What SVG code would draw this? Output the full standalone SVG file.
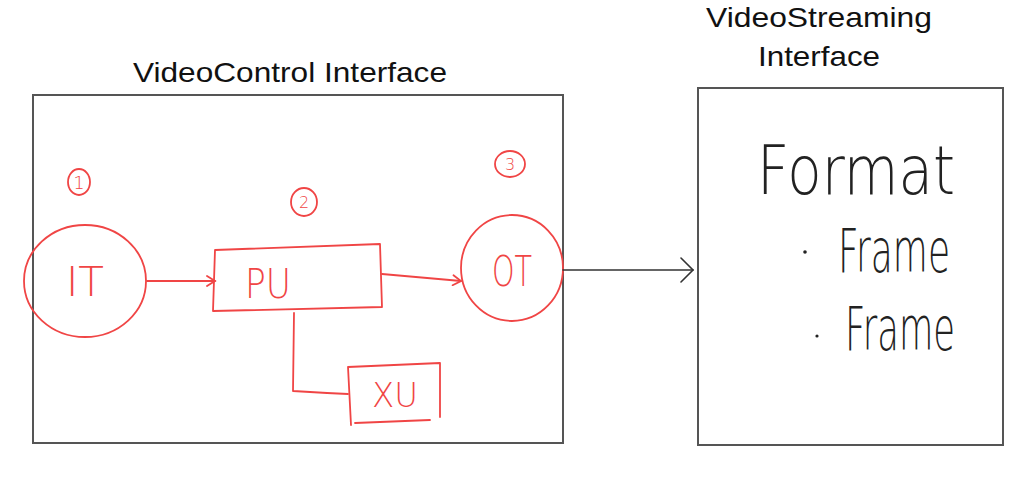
<svg xmlns="http://www.w3.org/2000/svg" width="1024" height="487" viewBox="0 0 1024 487">
<style>
.frame{fill:none;stroke:#555;stroke-width:2}
.title{font-family:"Liberation Sans",Arial,sans-serif;font-size:28px;fill:#111}
.red{fill:none;stroke:#f04545;stroke-width:1.8;stroke-linecap:round;stroke-linejoin:round}
.rt{font-family:"DejaVu Sans",sans-serif;font-weight:200;fill:#f04545}
.hand{font-family:"DejaVu Sans",sans-serif;font-weight:200;fill:#222}
.blk{fill:none;stroke:#333;stroke-width:1.6;stroke-linecap:round;stroke-linejoin:round}
</style>
<defs>
<marker id="ra" markerWidth="12" markerHeight="12" refX="10" refY="6" orient="auto" markerUnits="userSpaceOnUse">
<path d="M2,1 L10,6 L2,11" fill="none" stroke="#f04545" stroke-width="1.8" stroke-linecap="round"/>
</marker>
<marker id="ba" markerWidth="16" markerHeight="26" refX="14" refY="13" orient="auto" markerUnits="userSpaceOnUse">
<path d="M2,1 L14,13 L2,25" fill="none" stroke="#333" stroke-width="1.6" stroke-linecap="round"/>
</marker>
</defs>
<rect width="1024" height="487" fill="#fff"/>

<g id="videocontrol">
<rect class="frame" x="33" y="95" width="530" height="348"/>
<text class="title" x="290" y="82" text-anchor="middle" textLength="314" lengthAdjust="spacingAndGlyphs">VideoControl Interface</text>
</g>

<g id="videostreaming">
<rect class="frame" x="698" y="88" width="305" height="357"/>
<text class="title" x="819" y="27" text-anchor="middle" textLength="226" lengthAdjust="spacingAndGlyphs">VideoStreaming</text>
<text class="title" x="819" y="66" text-anchor="middle" textLength="122" lengthAdjust="spacingAndGlyphs">Interface</text>
<text class="hand" x="757" y="194" font-size="68" textLength="198" lengthAdjust="spacingAndGlyphs">Format</text>
<circle cx="805" cy="252" r="1.8" fill="#222"/>
<text class="hand" x="838" y="272" font-size="60" textLength="112" lengthAdjust="spacingAndGlyphs">Frame</text>
<circle cx="817" cy="336" r="1.6" fill="#222"/>
<text class="hand" x="845" y="350" font-size="60" textLength="110" lengthAdjust="spacingAndGlyphs">Frame</text>
</g>

<g id="it">
<ellipse class="red" cx="85" cy="281" rx="61" ry="56"/>
<text class="rt" x="85" y="296" font-size="40" text-anchor="middle" textLength="38" lengthAdjust="spacingAndGlyphs">IT</text>
<ellipse class="red" cx="79" cy="182" rx="11" ry="13"/>
<text class="rt" x="79" y="189" font-size="18" text-anchor="middle">1</text>
</g>

<g id="pu">
<path class="red" d="M215,250 L380,244 L382,307 L213,311 Z"/>
<text class="rt" x="268" y="298" font-size="40" text-anchor="middle" textLength="46" lengthAdjust="spacingAndGlyphs">PU</text>
<ellipse class="red" cx="304" cy="202" rx="13" ry="14"/>
<text class="rt" x="304" y="208" font-size="16" text-anchor="middle">2</text>
</g>

<g id="ot">
<ellipse class="red" cx="512" cy="268" rx="51" ry="53"/>
<text class="rt" x="512" y="286" font-size="42" text-anchor="middle" textLength="40" lengthAdjust="spacingAndGlyphs">OT</text>
<ellipse class="red" cx="510" cy="164" rx="15" ry="13"/>
<text class="rt" x="510" y="170" font-size="16" text-anchor="middle">3</text>
</g>

<g id="xu">
<path class="red" d="M348,367 L440,363 L440,417 M355,423 L430,420 M348,367 L351,425"/>
<text class="rt" x="395" y="407" font-size="34" text-anchor="middle" textLength="46" lengthAdjust="spacingAndGlyphs">XU</text>
</g>

<g id="connectors">
<line class="red" x1="147" y1="281" x2="215" y2="281" marker-end="url(#ra)"/>
<line class="red" x1="382" y1="274" x2="461" y2="281" marker-end="url(#ra)"/>
<path class="red" d="M294,313 L293,391 L327,393 L348,394"/>
<line class="blk" x1="563" y1="270" x2="693" y2="270" marker-end="url(#ba)"/>
</g>
</svg>
